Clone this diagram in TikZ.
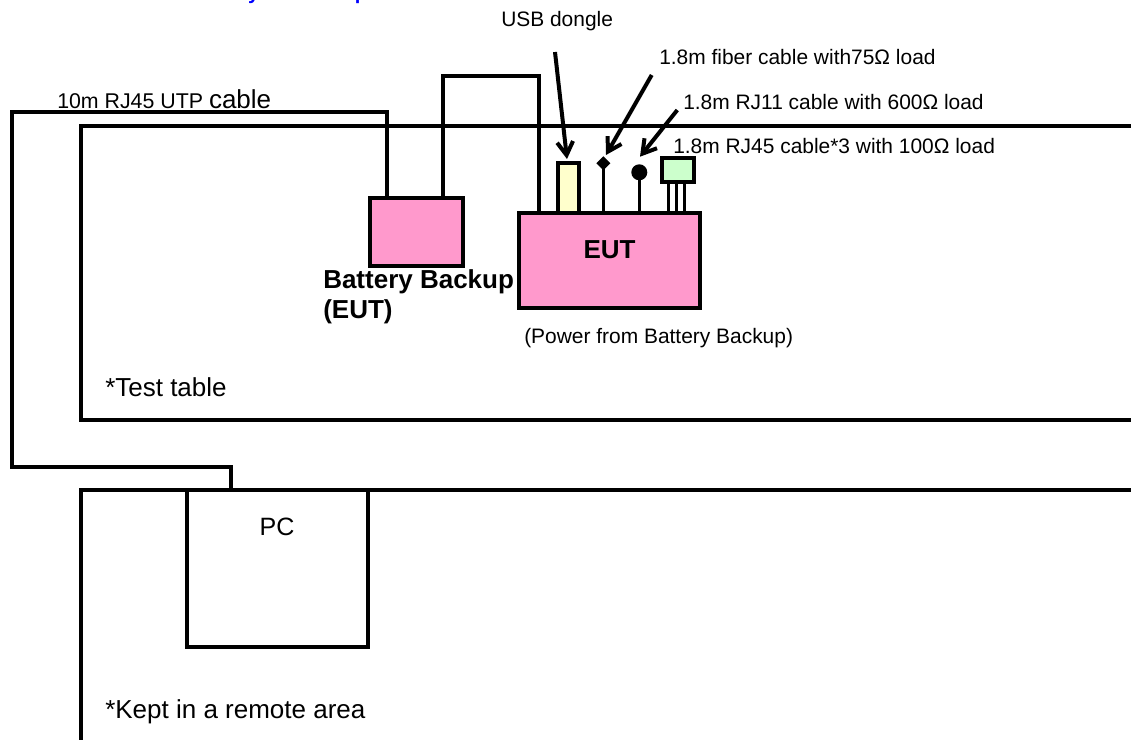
\documentclass[tikz,border=0pt]{standalone}
\usepackage{fontspec}
\setmainfont{Liberation Sans}
\usetikzlibrary{arrows.meta,shapes.geometric,calc}
\definecolor{pinkf}{HTML}{FF99CC}
\definecolor{yelf}{HTML}{FFFFCC}
\definecolor{grnf}{HTML}{CCFFCC}
\begin{document}
\begin{tikzpicture}[x=0.75pt,y=-0.75pt,
 box/.style={draw,line width=3pt,inner sep=0pt,outer sep=0pt},
 cable/.style={line width=3pt},
 frame/.style={line width=3pt},
 stem/.style={line width=2.6pt},
 arr/.style={line width=3pt,-{Straight Barb[length=10pt,width=12pt]}},
 lbl/.style={inner sep=0pt,anchor=base west,font=\fontsize{15.7}{18}\selectfont},
 big/.style={inner sep=0pt,anchor=base west,font=\fontsize{19.5}{22}\selectfont},
 bigb/.style={inner sep=0pt,anchor=base west,font=\bfseries\fontsize{19.5}{22}\selectfont},
]
\useasboundingbox (0,0) rectangle (1131,740);
\begin{scope}
\clip (0,0) rectangle (1131,740);
\node[inner sep=0pt,anchor=base west,text=blue,font=\bfseries\fontsize{15}{18}\selectfont] (title) at (189.4,-1) {Test System Setup};
\end{scope}
% areas
\draw[frame] (1131,126) -| (81,420) -- (1131,420);
\draw[frame] (1131,490) -| (81,740);
% equipment
\node[box,fill=pinkf,minimum width=69.75pt,minimum height=51pt] (batt) at (416.5,232) {};
\node[box,fill=pinkf,minimum width=135.75pt,minimum height=71.25pt] (eut) at (609.5,260.5) {};
\node[box,fill=white,minimum width=135.75pt,minimum height=117.75pt] (pc) at (277.5,568.5) {};
\node[box,fill=yelf,minimum width=15.75pt,minimum height=37.5pt] (usb) at (568.5,188) {};
\node[box,fill=grnf,minimum width=24pt,minimum height=18pt] (rj45) at (678,170) {};
\node[diamond,fill=black,inner sep=0pt,outer sep=0pt,minimum width=10.5pt,minimum height=10.5pt] (fib) at (603.3,163.3) {};
\node[circle,fill=black,inner sep=0pt,outer sep=0pt,minimum size=12pt] (rj11) at (639.3,172.3) {};
% stems and legs
\draw[stem] (fib.center) -- (fib.center |- eut.north);
\draw[stem] (rj11.center) -- (rj11.center |- eut.north);
\foreach \dx [count=\i] in {-9.7,-1.3,6.3}{
  \path (rj45.south) ++(\dx,0) coordinate (leg\i);
  \draw[line width=2.2pt] (leg\i) -- (leg\i |- eut.north);
}
% cables
\path (batt.north west) ++(16.5,0) coordinate (u1);
\path (pc.north west) ++(44,0) coordinate (u2);
\draw[cable] (u2) -- ++(0,-23) -| (11.5,111.5) -| (u1);
\path (batt.north west) ++(72.5,0) coordinate (b2);
\path (eut.north west) ++(19.7,0) coordinate (e1);
\draw[cable] (b2) -- ++(0,-122) -| (e1);
% arrows
\coordinate (a1) at (555,52);
\coordinate (a2) at (651.7,75);
\coordinate (a3) at (677.3,110);
\draw[arr] (a1) -- ($(usb.north)+(-1.5,-4)$);
\draw[arr] (a2) -- ($(fib.north)+(2.7,-1.3)$);
\draw[arr] (a3) -- ($(rj11.north)+(0.7,-7.6)$);
% labels
\node[lbl] (usbl) at (501,26) {USB dongle};
\node[lbl] (fibl) at (659,64) {1.8m fiber cable with75Ω load};
\node[lbl] (rj11l) at (683,109) {1.8m RJ11 cable with 600Ω load};
\node[lbl] (rj45l) at (673,153) {1.8m RJ45 cable*3 with 100Ω load};
\node[inner sep=0pt,anchor=base west] (utp) at (57,108) {\fontsize{16}{18}\selectfont 10m RJ45 UTP \fontsize{19.5}{22}\selectfont cable};
\node[bigb] (battl1) at (323,288) {Battery Backup};
\node[bigb] (battl2) at (323,318) {(EUT)};
\node[inner sep=0pt,anchor=base,font=\bfseries\fontsize{19.5}{22}\selectfont] (eutl) at (609.5,258) {EUT};
\node[lbl] (pwr) at (524,343) {(Power from Battery Backup)};
\node[inner sep=0pt,anchor=base,font=\fontsize{18.8}{22}\selectfont] (pcl) at (277,535) {PC};
\node[big] (tt) at (105,396) {*Test table};
\node[big] (kept) at (105,718) {*Kept in a remote area};
\end{tikzpicture}
\end{document}
